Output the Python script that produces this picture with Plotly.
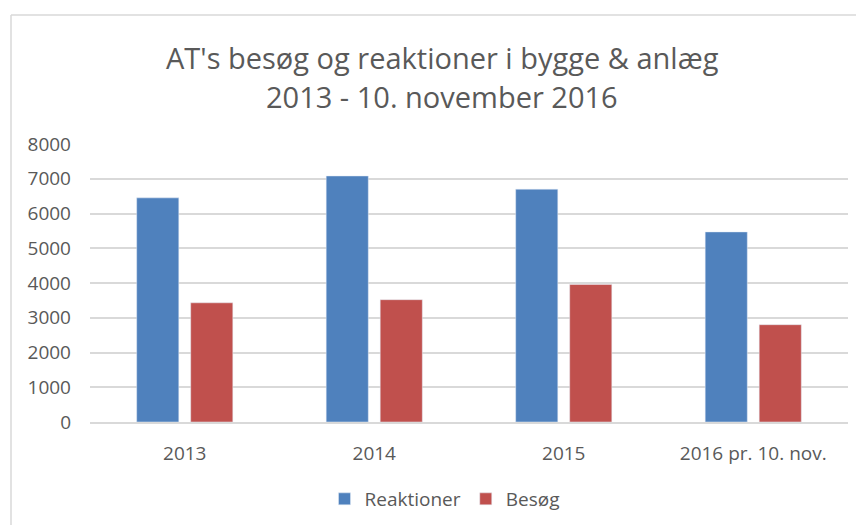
import plotly.graph_objects as go

categories = ["2013", "2014", "2015", "2016 pr. 10. nov."]
reaktioner = [6450, 7080, 6700, 5470]
besoeg = [3430, 3520, 3960, 2800]
y_ticks = [0, 1000, 2000, 3000, 4000, 5000, 6000, 7000, 8000]
title_lines = ["AT's besøg og reaktioner i bygge & anlæg", "2013 - 10. november 2016"]

FONT = "Open Sans"
TXT = "#595959"
GRID = "#D9D9D9"

# page body has an 8px margin; work in screenshot coordinates and shift
OFF = 8
W, H = 864 - OFF, 525 - OFF
L, R, T, B = 90 - OFF, 864 - 848, 144 - OFF, 525 - 422
pw, ph = W - L - R, H - T - B

def px(x):
    return (x - OFF - L) / pw

def py(y):
    return (H - B - (y - OFF)) / ph

fig = go.Figure()
fig.add_trace(go.Bar(name="Reaktioner", x=categories, y=reaktioner, marker_color="#4F81BD"))
fig.add_trace(go.Bar(name="Besøg", x=categories, y=besoeg, marker_color="#C0504D"))

fig.update_layout(
    width=W, height=H,
    margin=dict(l=L, r=R, t=T, b=B, autoexpand=False),
    paper_bgcolor="white", plot_bgcolor="white",
    barmode="group", bargap=0.43, bargroupgap=0.22,
    font=dict(family=FONT, color=TXT, size=19),
    legend=dict(orientation="h", x=px(445), xanchor="center", y=py(499), yanchor="middle",
                font=dict(family=FONT, size=19, color=TXT), itemwidth=30),
    showlegend=True,
)
for txt, yc in zip(title_lines, [58, 97]):
    fig.add_annotation(text=txt, xref="paper", yref="paper", x=px(442), y=py(yc),
                       xanchor="center", yanchor="middle", showarrow=False,
                       font=dict(family=FONT, size=29, color=TXT))

fig.update_xaxes(showgrid=False, showline=True, linecolor=GRID, linewidth=1.5,
                 ticks="", tickfont=dict(family=FONT, size=19, color=TXT), ticklabelstandoff=13,
                 automargin=False)
fig.update_yaxes(range=[0, 8000], tickvals=y_ticks, showgrid=True, gridcolor=GRID,
                 gridwidth=1.5, zeroline=False, showline=False, ticks="",
                 tickfont=dict(family=FONT, size=19, color=TXT), ticklabelstandoff=18,
                 automargin=False)

# chart border (cropped at right/bottom)
fig.add_shape(type="line", xref="paper", yref="paper", x0=px(11), x1=px(11), y0=py(15), y1=py(540),
              line=dict(color=GRID, width=1.5))
fig.add_shape(type="line", xref="paper", yref="paper", x0=px(11), x1=px(880), y0=py(15), y1=py(15),
              line=dict(color=GRID, width=1.5))

fig.write_html("out.html")
